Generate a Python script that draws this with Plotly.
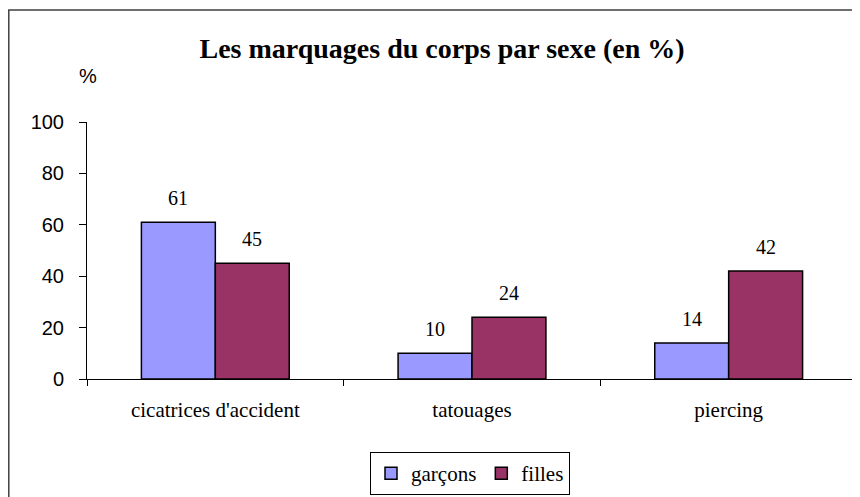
import plotly.graph_objects as go

categories = ["cicatrices d'accident", "tatouages", "piercing"]
garcons = [61, 10, 14]
filles = [45, 24, 42]
series_names = ["garçons", "filles"]
y_ticks = [0, 20, 40, 60, 80, 100]

# page has an 8px body margin: figure coordinates = page coordinates - 8
OFF = 8
W, H = 860 - OFF, 497 - OFF
L, R, T, B = 87 - OFF, 3, 122 - OFF, 118
pw = W - L - R
ph = H - T - B
base = T + ph  # figure y of value 0


def px(xp):  # page x -> paper fraction
    return (xp - OFF - L) / pw


def py(yp):  # page y -> paper fraction
    return (base - (yp - OFF)) / ph


serif = "Liberation Serif, Times New Roman, serif"
sans = "Liberation Sans, Arial, sans-serif"

fig = go.Figure()
fig.add_trace(go.Bar(x=categories, y=garcons, name=series_names[0],
                     marker=dict(color="#9999FF", line=dict(color="black", width=1.5))))
fig.add_trace(go.Bar(x=categories, y=filles, name=series_names[1],
                     marker=dict(color="#993366", line=dict(color="black", width=1.5))))

annotations = []
for vals, shift in ((garcons, -37), (filles, 37)):
    for c, v in zip(categories, vals):
        annotations.append(dict(x=c, y=v, xref="x", yref="y", text=str(v), showarrow=False,
                                xshift=shift, yshift=11, yanchor="bottom",
                                font=dict(family=serif, size=20, color="black")))
annotations.append(dict(x=px(87.5), y=py(76), xref="paper", yref="paper",
                        text="%", showarrow=False, xanchor="center", yanchor="middle",
                        font=dict(family=sans, size=20, color="black")))

fig.update_layout(
    width=W, height=H,
    margin=dict(l=L, r=R, t=T, b=B, autoexpand=False),
    paper_bgcolor="white", plot_bgcolor="white",
    barmode="group", bargap=0.424, bargroupgap=0,
    title=dict(text="<b>Les marquages du corps par sexe (en %)</b>", x=(442 - OFF) / W,
               xanchor="center", y=1 - (48 - OFF) / H, yanchor="middle",
               font=dict(family=serif, size=28, color="black")),
    xaxis=dict(showline=True, linecolor="black", linewidth=1, ticks="outside", tickson="boundaries",
               ticklen=6, tickcolor="black", showgrid=False, ticklabelstandoff=12,
               automargin=False,
               tickfont=dict(family=serif, size=21, color="black")),
    yaxis=dict(range=[0, 100], tickvals=y_ticks, showline=True, linecolor="black", linewidth=1,
               ticks="outside", ticklen=7, tickcolor="black", showgrid=False, zeroline=False,
               ticklabelstandoff=11, automargin=False,
               tickfont=dict(family=sans, size=20, color="black")),
    legend=dict(orientation="h", x=(470 - OFF) / W, xref="container", xanchor="center",
                y=1 - (495 - OFF) / H, yref="container",
                yanchor="bottom", bordercolor="black", borderwidth=1, bgcolor="white",
                font=dict(family=serif, size=21, color="black"), itemwidth=30),
    annotations=annotations,
    shapes=[dict(type="rect", xref="paper", yref="paper",
                 x0=px(OFF + 0.8), x1=px(875),
                 y0=py(520), y1=py(10),
                 line=dict(color="#404040", width=1.5), fillcolor="rgba(0,0,0,0)", layer="below")],
)

fig.write_html("out.html")
